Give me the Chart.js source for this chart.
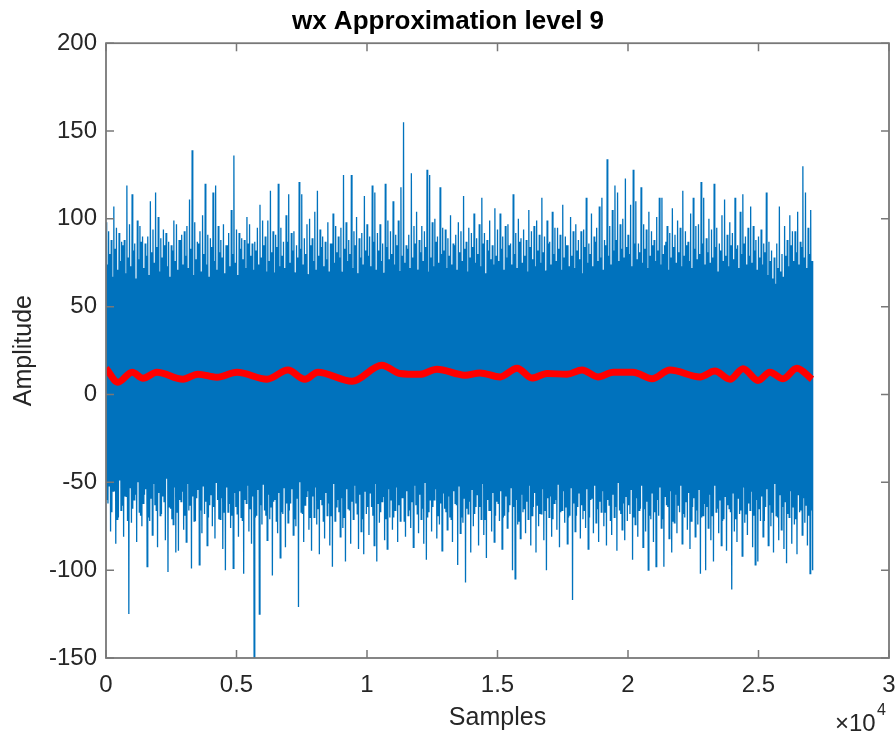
<!DOCTYPE html>
<html>
<head>
<meta charset="utf-8">
<title>wx Approximation level 9</title>
<script src="https://cdn.jsdelivr.net/npm/chart.js@4/dist/chart.umd.min.js"></script>
<style>
  html, body { margin: 0; padding: 0; background: #ffffff; }
  #wrap { width: 896px; height: 735px; }
</style>
</head>
<body>
<div id="wrap"><canvas id="chart" width="896" height="735"></canvas></div>
<script>
// ---- signal data -------------------------------------------------------
// Detail trace, described per block of 100 samples:
//   +0  main peak, +25 minor trough, +50 minor peak, +75 main trough.
const TRACE_STEP = 100;

const mainPeaks = [
  98, 93, 88, 107, 95, 92, 87, 88, 119, 97,
  114, 86, 99, 96, 90, 86, 90, 110, 94, 115,
  101, 89, 94, 92, 87, 85, 99, 97, 88, 91,
  93, 96, 111, 139, 98, 87, 93, 102, 120, 91,
  89, 115, 119, 96, 88, 97, 85, 92, 105, 136,
  94, 92, 89, 88, 101, 97, 86, 87, 95, 108,
  99, 90, 99, 116, 93, 91, 120, 95, 87, 102,
  114, 92, 93, 85, 121, 114, 89, 97, 100, 89,
  104, 116, 94, 90, 87, 98, 86, 103, 96, 90,
  95, 125, 98, 88, 125, 93, 101, 89, 92, 113,
  97, 90, 119, 115, 92, 97, 86, 120, 99, 93,
  110, 91, 99, 118, 155, 85, 91, 126, 96, 104,
  88, 96, 93, 128, 125, 98, 100, 90, 118, 95,
  94, 89, 102, 86, 91, 98, 93, 113, 87, 95,
  92, 103, 89, 97, 112, 92, 88, 99, 85, 106,
  94, 103, 90, 96, 97, 86, 114, 92, 100, 89,
  94, 88, 105, 93, 96, 99, 91, 112, 90, 99,
  87, 104, 95, 95, 91, 108, 90, 85, 101, 93,
  97, 88, 93, 94, 112, 86, 103, 90, 95, 107,
  112, 88, 134, 96, 105, 119, 115, 97, 100, 123,
  91, 108, 128, 110, 86, 118, 97, 94, 104, 93,
  88, 101, 112, 112, 85, 96, 92, 106, 91, 99,
  95, 116, 93, 87, 103, 112, 96, 97, 121, 112,
  89, 100, 94, 120, 95, 86, 102, 111, 91, 98,
  92, 112, 85, 104, 114, 90, 95, 107, 96, 88,
  90, 94, 86, 115, 87, 82, 78, 86, 107, 80,
  96, 88, 102, 93, 93, 104, 87, 130, 115, 95,
  105
];

const minorTroughs = [
  -60, -52, -67, -55, -71, -49, -63, -58, -72, -53,
  -65, -57, -50, -69, -62, -54, -70, -59, -51, -66,
  -56, -68, -61, -48, -64, -71, -53, -67, -60, -55,
  -69, -51, -63, -58, -72, -54, -66, -52, -61, -70,
  -57, -64, -50, -71, -59, -67, -53, -62, -69, -56,
  -68, -55, -72, -60, -52, -65, -58, -70, -54, -63,
  -51, -69, -57, -64, -61, -72, -56, -67, -53, -62,
  -66, -54, -71, -59, -50, -68, -63, -55, -70, -58,
  -53, -65, -60, -72, -56, -62, -69, -51, -64, -67,
  -59, -70, -54, -66, -61, -52, -68, -57, -71, -55,
  -64, -56, -69, -51, -62, -67, -58, -71, -54, -60,
  -70, -53, -63, -59, -72, -55, -66, -61, -52, -68,
  -57, -65, -50, -70, -60, -64, -54, -69, -62, -56,
  -67, -58, -71, -55, -63, -52, -70, -59, -65, -61,
  -54, -68, -57, -64, -51, -71, -60, -66, -56, -69,
  -62, -55, -70, -58, -67, -53, -64, -60, -72, -57,
  -65, -61, -52, -69, -56, -63, -68, -54, -66, -59,
  -58, -71, -60, -51, -67, -55, -64, -70, -53, -62,
  -69, -56, -63, -66, -54, -70, -59, -52, -65, -61,
  -55, -67, -60, -72, -57, -64, -50, -68, -62, -58,
  -63, -54, -70, -59, -66, -52, -65, -61, -69, -56,
  -67, -60, -53, -71, -58, -64, -55, -72, -57, -63,
  -52, -68, -61, -56, -72, -59, -66, -54, -70, -62,
  -64, -57, -69, -52, -65, -60, -72, -58, -63, -67,
  -56, -71, -59, -66, -53, -68, -62, -55, -69, -60,
  -65, -58, -72, -54, -63, -67, -51, -70, -57, -64,
  -61, -68, -55, -64, -71, -57, -66, -59, -63, -69,
  -66
];

const minorPeaks = [
  74, 80, 67, 83, 71, 76, 85, 69, 78, 73,
  82, 66, 77, 87, 72, 79, 68, 81, 75, 84,
  70, 78, 85, 73, 67, 82, 76, 71, 88, 74,
  79, 72, 83, 68, 77, 86, 70, 80, 74, 67,
  84, 76, 71, 81, 78, 69, 85, 73, 80, 75,
  68, 83, 77, 72, 86, 79, 71, 82, 74, 78,
  85, 70, 76, 81, 67, 84, 73, 79, 72, 87,
  75, 82, 69, 78, 83, 74, 80, 68, 85, 76,
  71, 79, 84, 73, 77, 70, 86, 75, 81, 78,
  67, 83, 76, 80, 72, 85, 69, 78, 74, 82,
  79, 73, 87, 71, 82, 76, 68, 84, 77, 80,
  74, 85, 70, 79, 75, 83, 72, 78, 86, 71,
  81, 76, 84, 69, 78, 73, 87, 75, 80, 82,
  72, 79, 74, 85, 71, 81, 76, 83, 70, 78,
  84, 75, 80, 73, 86, 69, 82, 77, 74, 79,
  76, 83, 71, 78, 85, 74, 80, 72, 87, 75,
  79, 70, 84, 77, 73, 82, 75, 81, 68, 86,
  74, 80, 76, 83, 71, 78, 85, 73, 79, 72,
  82, 77, 69, 84, 75, 80, 73, 87, 76, 78,
  71, 85, 79, 74, 82, 88, 76, 83, 78, 84,
  80, 73, 86, 77, 81, 75, 83, 72, 79, 85,
  76, 82, 74, 80, 87, 71, 78, 84, 75, 81,
  73, 79, 85, 76, 72, 83, 77, 80, 86, 74,
  81, 75, 78, 84, 70, 82, 76, 79, 73, 85,
  77, 83, 72, 80, 86, 74, 79, 75, 82, 71,
  78, 74, 81, 68, 76, 66, 63, 72, 70, 67,
  79, 73, 85, 76, 81, 74, 84, 78, 72, 80,
  76
];

const mainTroughs = [
  -62, -78, -55, -85, -70, -66, -81, -58, -125, -73,
  -60, -84, -67, -75, -57, -98, -72, -80, -63, -87,
  -69, -58, -83, -101, -65, -74, -90, -89, -61, -77,
  -84, -66, -99, -72, -59, -97, -79, -68, -86, -63,
  -75, -82, -60, -71, -88, -100, -67, -76, -99, -64,
  -81, -70, -102, -62, -78, -85, -150, -69, -125, -74,
  -66, -83, -71, -103, -60, -79, -93, -68, -87, -73,
  -62, -80, -75, -121, -67, -84, -58, -77, -89, -70,
  -74, -91, -63, -82, -69, -86, -98, -72, -60, -81,
  -76, -95, -65, -85, -71, -62, -88, -78, -91, -68,
  -80, -64, -86, -95, -73, -61, -83, -88, -70, -77,
  -66, -84, -72, -59, -81, -69, -76, -87, -63, -79,
  -71, -85, -94, -67, -78, -60, -82, -74, -89, -65,
  -77, -70, -84, -62, -97, -79, -73, -107, -68, -90,
  -75, -64, -86, -71, -80, -93, -66, -78, -84, -61,
  -72, -88, -69, -76, -63, -100, -105, -74, -82, -67,
  -79, -71, -86, -64, -90, -75, -68, -83, -100, -70,
  -81, -62, -77, -87, -66, -73, -85, -69, -117, -78,
  -64, -82, -71, -76, -88, -60, -79, -73, -84, -67,
  -75, -86, -63, -80, -70, -89, -66, -77, -83, -72,
  -68, -94, -74, -81, -65, -87, -78, -100, -71, -84,
  -98, -69, -76, -98, -63, -82, -90, -73, -79, -67,
  -85, -70, -77, -88, -64, -81, -74, -102, -69, -100,
  -76, -83, -95, -67, -79, -86, -71, -89, -65, -111,
  -78, -84, -68, -92, -73, -80, -66, -87, -97, -95,
  -72, -81, -64, -86, -75, -90, -69, -83, -77, -88,
  -96, -70, -85, -74, -91, -67, -80, -73, -86, -102,
  -100
];

// Dense core of the trace (where the signal is solid), every 1000 samples.
const CORE_STEP = 1000;
const coreUpper = [66, 64, 65, 63, 64, 67, 69, 70, 68, 70, 68, 70, 71, 68,
                   66, 67, 68, 71, 69, 67, 70, 69, 68, 67, 68, 64, 60, 66];
const coreLower = [-44, -46, -43, -45, -47, -44, -45, -43, -46, -44, -42, -45, -43, -44,
                   -46, -43, -45, -42, -44, -46, -43, -45, -44, -43, -46, -44, -45, -43];

// Level-9 approximation (sample index, amplitude).
const approxSamples = [0, 460, 1000, 1420, 1950, 2950, 3520, 4250, 5020, 6170,
                       6970, 7620, 8120, 9430, 10570, 11260, 12030, 12680, 13750, 14330,
                       15100, 15750, 16320, 16900, 17660, 18240, 18850, 19430, 20190, 20920,
                       21610, 22760, 23330, 23910, 24410, 24980, 25440, 25940, 26470, 27050];
const approxValues  = [15, 7, 12.7, 9.3, 12.7, 8.7, 11.6, 9.8, 12.7, 8.7,
                       13.9, 8.7, 12.7, 7.6, 16.7, 12, 11.5, 14.4, 11, 12.3,
                       10, 15, 9.4, 12, 11.5, 14, 10, 12.7, 12.7, 9,
                       14, 10, 13.4, 8.7, 14.7, 8, 12.7, 9, 15, 8.7];

// Axis ticks
const xTicks = [0, 5000, 10000, 15000, 20000, 25000, 30000];
const xTickLabels = ['0', '0.5', '1', '1.5', '2', '2.5', '3'];
const yTicks = [-150, -100, -50, 0, 50, 100, 150, 200];

// ---- build point lists --------------------------------------------------
const tracePoints = [];
for (let i = 0; i < mainPeaks.length; i++) {
  const s = i * TRACE_STEP;
  tracePoints.push({ x: s,      y: mainPeaks[i] });
  tracePoints.push({ x: s + 25, y: minorTroughs[i] });
  tracePoints.push({ x: s + 50, y: minorPeaks[i] });
  tracePoints.push({ x: s + 75, y: mainTroughs[i] });
}
const coreUpperPts = coreUpper.map((v, i) => ({ x: i * CORE_STEP, y: v }));
const coreLowerPts = coreLower.map((v, i) => ({ x: i * CORE_STEP, y: v }));
const approxPts = approxSamples.map((s, i) => ({ x: s, y: approxValues[i] }));

const FONT = '"Liberation Sans", Arial, Helvetica, sans-serif';
const AXIS_COLOR = '#787878';
const TEXT_COLOR = '#262626';
const SIGNAL_BLUE = '#0072BD';

// Box around the plot with inward tick marks on all four sides, plus the x exponent.
const boxAxes = {
  id: 'boxAxes',
  afterDatasetsDraw(chart) {
    const { ctx, chartArea: a, scales } = chart;
    const xs = scales.x, ys = scales.y;
    const len = 8;
    ctx.save();
    ctx.strokeStyle = AXIS_COLOR;
    ctx.lineWidth = 1.5;
    ctx.beginPath();
    xTicks.forEach(v => {
      const px = xs.getPixelForValue(v);
      ctx.moveTo(px, a.bottom); ctx.lineTo(px, a.bottom - len);
      ctx.moveTo(px, a.top);    ctx.lineTo(px, a.top + len);
    });
    yTicks.forEach(v => {
      const py = ys.getPixelForValue(v);
      ctx.moveTo(a.left, py);  ctx.lineTo(a.left + len, py);
      ctx.moveTo(a.right, py); ctx.lineTo(a.right - len, py);
    });
    ctx.stroke();
    ctx.lineWidth = 1.8;
    ctx.strokeRect(a.left, a.top, a.right - a.left, a.bottom - a.top);

    // ×10^4 multiplier under the right end of the x axis
    ctx.fillStyle = TEXT_COLOR;
    ctx.textBaseline = 'middle';
    ctx.textAlign = 'left';
    ctx.font = '24px ' + FONT;
    ctx.fillText('\u00D710', a.right - 54, a.bottom + 66);
    ctx.font = '16px ' + FONT;
    ctx.fillText('4', a.right - 12, a.bottom + 53);
    ctx.restore();
  }
};

new Chart(document.getElementById('chart'), {
  type: 'line',
  data: {
    datasets: [
      {
        label: 'approximation',
        data: approxPts,
        borderColor: '#FF0000',
        borderWidth: 7,
        pointRadius: 0,
        cubicInterpolationMode: 'monotone',
        fill: false,
        order: 0
      },
      {
        label: 'signal',
        data: tracePoints,
        borderColor: SIGNAL_BLUE,
        borderWidth: 1.3,
        pointRadius: 0,
        tension: 0,
        fill: false,
        order: 1
      },
      {
        label: 'core lower',
        data: coreLowerPts,
        borderWidth: 0,
        borderColor: 'rgba(0,0,0,0)',
        pointRadius: 0,
        fill: false,
        order: 3
      },
      {
        label: 'core upper',
        data: coreUpperPts,
        borderWidth: 0,
        borderColor: 'rgba(0,0,0,0)',
        backgroundColor: SIGNAL_BLUE,
        pointRadius: 0,
        fill: '-1',
        order: 2
      }
    ]
  },
  options: {
    responsive: false,
    devicePixelRatio: 1,
    animation: false,
    layout: { padding: 0 },
    plugins: {
      legend: { display: false },
      tooltip: { enabled: false },
      title: {
        display: true,
        text: 'wx Approximation level 9',
        color: '#000000',
        font: { family: FONT, size: 26, weight: 'bold', lineHeight: 1.2 },
        padding: { top: 6, bottom: 6 }
      }
    },
    scales: {
      x: {
        type: 'linear',
        min: 0,
        max: 30000,
        grid: { display: false, drawTicks: false },
        border: { display: false },
        afterBuildTicks(scale) {
          scale.ticks = xTicks.map(v => ({ value: v }));
        },
        ticks: {
          autoSkip: false,
          maxRotation: 0,
          padding: 13,
          color: TEXT_COLOR,
          font: { family: FONT, size: 24 },
          callback: (v) => xTickLabels[xTicks.indexOf(v)]
        },
        title: {
          display: true,
          text: 'Samples',
          color: TEXT_COLOR,
          font: { family: FONT, size: 25 },
          padding: { top: 0, bottom: 2 }
        },
        afterFit(scale) {
          scale.height = 77;
          scale.paddingLeft = 0;
          scale.paddingRight = 7;
        }
      },
      y: {
        type: 'linear',
        min: -150,
        max: 200,
        grid: { display: false, drawTicks: false },
        border: { display: false },
        afterBuildTicks(scale) {
          scale.ticks = yTicks.map(v => ({ value: v }));
        },
        ticks: {
          padding: 9,
          color: TEXT_COLOR,
          font: { family: FONT, size: 24 },
          callback: (v) => String(v)
        },
        title: {
          display: true,
          text: 'Amplitude',
          color: TEXT_COLOR,
          font: { family: FONT, size: 25 },
          padding: { top: 9, bottom: 0 }
        },
        afterFit(scale) {
          scale.width = 106;
          scale.paddingTop = 0;
          scale.paddingBottom = 0;
        }
      }
    }
  },
  plugins: [boxAxes]
});
</script>
</body>
</html>
